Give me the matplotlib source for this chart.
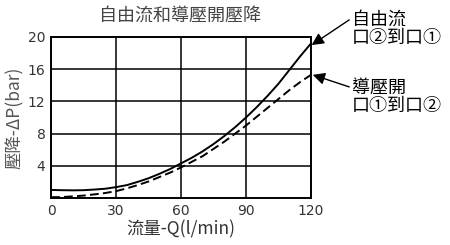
import matplotlib
matplotlib.use('Agg')
import matplotlib.pyplot as plt

plt.rcParams['font.family'] = ['Noto Sans CJK TC', 'DejaVu Sans']

flow = [0, 5, 10, 15, 20, 25, 30, 35, 40, 45, 50, 55, 60, 65, 70, 75, 80, 85, 90, 95, 100, 105, 110, 115, 120]
free_flow = [1.0, 0.97, 0.95, 0.97, 1.05, 1.15, 1.35, 1.6, 2.0, 2.45, 3.0, 3.6, 4.3, 5.0, 5.8, 6.7, 7.7, 8.8, 10.0, 11.3, 12.7, 14.2, 15.9, 17.6, 19.2]
pilot_open = [0.1, 0.12, 0.2, 0.3, 0.45, 0.62, 0.85, 1.2, 1.6, 2.05, 2.6, 3.15, 3.8, 4.5, 5.2, 6.1, 7.0, 8.0, 9.0, 10.1, 11.2, 12.3, 13.4, 14.4, 15.3]

x_ticks = [0, 30, 60, 90, 120]
y_ticks = [4, 8, 12, 16, 20]

fig = plt.figure(figsize=(4.5, 2.45), dpi=100)
ax = fig.add_axes([51 / 450, 1 - 198 / 245, 260 / 450, 161 / 245])
ax.plot(flow, free_flow, color='black', lw=1.4)
ax.plot(flow, pilot_open, color='black', lw=1.4, ls=(0, (4.5, 2.2)))
ax.set_xlim(0, 120)
ax.set_ylim(0, 20)
ax.set_xticks(x_ticks)
ax.set_yticks(y_ticks)
ax.grid(True, color='black', lw=1.1)
for s in ax.spines.values():
    s.set_linewidth(1.4)
ax.tick_params(length=0, labelsize=10, colors='#333333', pad=4)
for lbl in ax.get_xticklabels() + ax.get_yticklabels():
    lbl.set_family('DejaVu Sans')
ax.set_xlabel('流量-Q(l/min)', fontsize=12.5, color='#333333', labelpad=2)
ax.set_ylabel('壓降-ΔP(bar)', fontsize=12.5, color='#555555', labelpad=3)
fig.text(0.40, 0.935, '自由流和導壓開壓降', ha='center', va='center', fontsize=13, color='#444444')

ax.annotate('自由流\n口②到口①', xy=(120.3, 19.0), xycoords='data',
            xytext=(352 / 450, 1 - 29 / 245), textcoords='figure fraction',
            fontsize=13, va='center', ha='left', linespacing=1.05,
            arrowprops=dict(arrowstyle='-|>', color='black', lw=1.0, mutation_scale=18,
                            shrinkA=0, shrinkB=0, relpos=(0, 0.8)),
            annotation_clip=False)
ax.annotate('導壓開\n口①到口②', xy=(120.8, 15.3), xycoords='data',
            xytext=(352 / 450, 1 - 97 / 245), textcoords='figure fraction',
            fontsize=13, va='center', ha='left', linespacing=1.05,
            arrowprops=dict(arrowstyle='-|>', color='black', lw=1.0, mutation_scale=18,
                            shrinkA=0, shrinkB=0, relpos=(0, 0.75)),
            annotation_clip=False)

fig.savefig('out.png', dpi=100)
